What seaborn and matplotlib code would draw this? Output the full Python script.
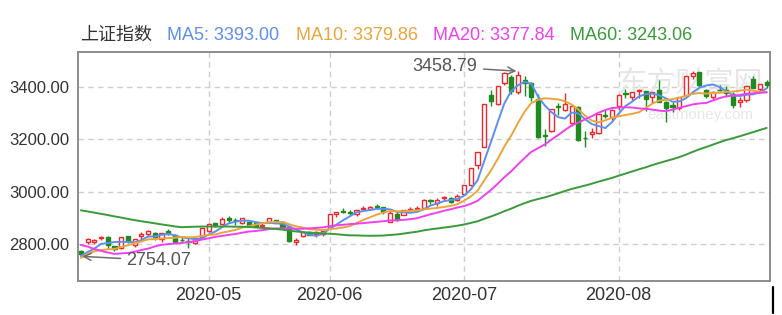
import numpy as np
import pandas as pd
import matplotlib
matplotlib.use('Agg')
import matplotlib.pyplot as plt
import seaborn as sns
from matplotlib.lines import Line2D

# ---------------- data ----------------
dates = (
    ['2020-04-%02d' % d for d in [3, 7, 8, 9, 10, 13, 14, 15, 16, 17, 20, 21, 22, 23, 24, 27, 28, 29, 30]] +
    ['2020-05-%02d' % d for d in [6, 7, 8, 11, 12, 13, 14, 15, 18, 19, 20, 21, 22, 25, 26, 27, 28, 29]] +
    ['2020-06-%02d' % d for d in [1, 2, 3, 4, 5, 8, 9, 10, 11, 12, 15, 16, 17, 18, 19, 22, 23, 24, 29, 30]] +
    ['2020-07-%02d' % d for d in [1, 2, 3, 6, 7, 8, 9, 10, 13, 14, 15, 16, 17, 20, 21, 22, 23, 24, 27, 28, 29, 30, 31]] +
    ['2020-08-%02d' % d for d in [3, 4, 5, 6, 7, 10, 11, 12, 13, 14, 17, 18, 19, 20, 21, 24, 25, 26, 27, 28, 31]] +
    ['2020-09-%02d' % d for d in [1, 2]]
)

open_ = [2773, 2807, 2808, 2823, 2829, 2792, 2785, 2830, 2798, 2831, 2838, 2841, 2821, 2849, 2835, 2818, 2814, 2805, 2826,
         2850, 2879, 2878, 2900, 2894, 2881, 2885, 2882, 2868, 2885, 2891, 2885, 2864, 2808, 2832, 2845, 2840, 2839,
         2861, 2914, 2928, 2924, 2916, 2935, 2936, 2944, 2941, 2885, 2915, 2913, 2931, 2933, 2937, 2967, 2956, 2975, 2976, 2967,
         2991, 3026, 3102, 3172, 3370, 3335, 3414, 3436, 3379, 3427, 3415, 3354, 3217, 3230, 3328, 3312, 3262, 3321, 3206, 3220, 3225, 3293, 3283,
         3325, 3375, 3359, 3385, 3384, 3362, 3388, 3341, 3331, 3317, 3364, 3442, 3454, 3389, 3360, 3388, 3386, 3372, 3341, 3351, 3430,
         3393, 3418]
high = [2778, 2822, 2821, 2832, 2832, 2793, 2828, 2831, 2820, 2847, 2853, 2845, 2844, 2858, 2838, 2828, 2823, 2823, 2861,
        2879, 2880, 2905, 2909, 2899, 2898, 2886, 2883, 2879, 2898, 2893, 2887, 2865, 2822, 2846, 2851, 2849, 2856,
        2917, 2922, 2937, 2929, 2931, 2946, 2944, 2953, 2942, 2927, 2925, 2932, 2942, 2945, 2973, 2974, 2976, 2983, 2980, 2992,
        3027, 3092, 3153, 3335, 3387, 3404, 3456, 3443, 3458.79, 3441, 3418, 3371, 3240, 3315, 3338, 3374, 3329, 3326, 3231, 3243, 3294, 3310, 3314,
        3371, 3392, 3378, 3390, 3384, 3380, 3425, 3345, 3343, 3361, 3440, 3458, 3455, 3391, 3385, 3405, 3401, 3380, 3360, 3404, 3440,
        3411, 3427]
low = [2754.07, 2800, 2801, 2818, 2783, 2773, 2783, 2806, 2791, 2818, 2833, 2817, 2810, 2835, 2808, 2804, 2784, 2799, 2826,
       2848, 2864, 2877, 2882, 2875, 2877, 2866, 2864, 2863, 2880, 2880, 2862, 2807, 2797, 2829, 2834, 2826, 2832,
       2861, 2905, 2919, 2913, 2909, 2930, 2931, 2934, 2916, 2883, 2889, 2912, 2930, 2928, 2934, 2954, 2946, 2968, 2956, 2966,
       2986, 3022, 3087, 3172, 3328, 3330, 3406, 3373, 3373, 3364, 3345, 3203, 3174, 3226, 3293, 3309, 3252, 3195, 3171, 3206, 3219, 3281, 3274,
       3313, 3356, 3349, 3357, 3307, 3339, 3340, 3265, 3305, 3313, 3364, 3431, 3397, 3355, 3353, 3384, 3361, 3320, 3323, 3343, 3394,
       3381, 3395]
close = [2764, 2821, 2815, 2826, 2796, 2783, 2827, 2811, 2819, 2838, 2852, 2827, 2843, 2838, 2808, 2815, 2810, 2822, 2860,
         2878, 2871, 2895, 2894, 2891, 2898, 2870, 2868, 2875, 2898, 2884, 2867, 2814, 2817, 2846, 2837, 2846, 2852,
         2915, 2921, 2923, 2919, 2930, 2937, 2943, 2943, 2921, 2920, 2891, 2931, 2935, 2939, 2967, 2965, 2970, 2979, 2962, 2985,
         3026, 3091, 3153, 3333, 3345, 3403, 3451, 3383, 3443, 3415, 3361, 3210, 3214, 3314, 3321, 3333, 3325, 3197, 3205, 3228, 3295, 3287, 3310,
         3368, 3372, 3378, 3386, 3354, 3379, 3340, 3319, 3321, 3360, 3439, 3451, 3408, 3364, 3381, 3386, 3374, 3330, 3351, 3404, 3396,
         3411, 3405]

# closes before the visible window (Jan 2 - Apr 2, 2020), only used for the moving averages
hist_close = [3085, 3084, 3083, 3105, 3067, 3095, 3092, 3116, 3107, 3090, 3074, 3076, 3096, 3052, 3061, 2977,
              2747, 2783, 2818, 2867, 2876, 2890, 2902, 2927, 2906, 2917, 2984, 2985, 2975, 3030, 3040, 3031, 3013, 2988, 2991, 2880,
              2971, 2993, 3012, 3072, 3035, 2943, 2997, 2969, 2923, 2887, 2789, 2780, 2729, 2702, 2746, 2660, 2722, 2782, 2765, 2772, 2747, 2750,
              2735, 2781]

ma_windows = [5, 10, 20, 60]
ma_names = ['MA5', 'MA10', 'MA20', 'MA60']
ma_last = ['3393.00', '3379.86', '3377.84', '3243.06']
ma_colors = ['#5d8ff0', '#eaa53c', '#f23ff2', '#3a9a3a']
title_text = '上证指数'
month_labels = ['2020-05', '2020-06', '2020-07', '2020-08']
y_ticks = [2800, 3000, 3200, 3400]
high_value = 3458.79
low_value = 2754.07

UP = '#f0282a'
DOWN = '#1f8a1f'

# ---------------- figure ----------------
sns.set_style('white')
plt.rcParams['font.family'] = ['Liberation Sans', 'Noto Sans CJK SC', 'DejaVu Sans']

fig = plt.figure(figsize=(7.82, 3.15), dpi=100)
ax = fig.add_axes([77.5 / 782, 1 - 281 / 315, (770 - 77.5) / 782, (281 - 52) / 315])

n = len(dates)
x = np.arange(n)
o = np.array(open_, float)
h = np.array(high, float)
l = np.array(low, float)
c = np.array(close, float)
up = c >= o

# wicks
ax.vlines(x[up], l[up], h[up], color=UP, linewidth=1, zorder=3)
ax.vlines(x[~up], l[~up], h[~up], color=DOWN, linewidth=1, zorder=3)
# bodies
body_b = np.minimum(o, c)
body_h = np.maximum(np.abs(c - o), 0.6)
ax.bar(x[up], body_h[up], bottom=body_b[up], width=0.62, facecolor='white', edgecolor=UP, linewidth=1, zorder=4)
ax.bar(x[~up], body_h[~up], bottom=body_b[~up], width=0.62, facecolor=DOWN, edgecolor=DOWN, linewidth=1, zorder=4)

# moving averages
full = pd.Series(hist_close + close, dtype=float)
k = len(hist_close)
rows = []
for name, w in zip(ma_names, ma_windows):
    ma = full.rolling(w).mean().iloc[k:].to_numpy()
    rows.append(pd.DataFrame({'idx': x, 'value': ma, 'ma': name}))
df = pd.concat(rows, ignore_index=True)
sns.lineplot(data=df, x='idx', y='value', hue='ma', hue_order=ma_names,
             palette=dict(zip(ma_names, ma_colors)), linewidth=1.4, legend=False, ax=ax, zorder=5)

# axes
ax.set_xlim(-0.5, n - 0.5)
ax.set_ylim(2660, 3532)
month_pos = [next(i for i, d in enumerate(dates) if d.startswith(m)) for m in month_labels]
ax.set_xticks(month_pos)
ax.set_xticklabels(month_labels)
ax.set_yticks(y_ticks)
ax.set_yticklabels(['%.2f' % v for v in y_ticks])
ax.set_xlabel('')
ax.set_ylabel('')
ax.grid(True, linestyle=(0, (4, 3)), color='#cfcfcf', linewidth=1)
ax.set_axisbelow(True)
ax.tick_params(axis='both', length=0, colors='#333333')
ax.tick_params(axis='y', labelsize=12, pad=6)
ax.tick_params(axis='x', labelsize=13, pad=4)
for s in ax.spines.values():
    s.set_color('#8c8c8c')
    s.set_linewidth(1.4)

# watermark
ax.text(0.885, 0.86, '东方财富网', transform=ax.transAxes, fontsize=21, color='#e6e6e6',
        ha='center', va='center', family=['Noto Sans CJK SC'], zorder=1)
ax.text(0.9, 0.725, 'eastmoney.com', transform=ax.transAxes, fontsize=11, color='#e8e8e8',
        ha='center', va='center', zorder=1)

# annotations of extremes
hi_i = int(np.argmax(h))
lo_i = int(np.argmin(l))
ax.annotate('%.2f' % high_value, xy=(hi_i, high_value), xytext=(hi_i - 6.0, 3476),
            ha='right', va='center', fontsize=13, color='#555555',
            arrowprops=dict(arrowstyle='->', color='#707070', lw=1.1, shrinkA=2, shrinkB=1), zorder=6)
ax.annotate('%.2f' % low_value, xy=(lo_i, low_value), xytext=(lo_i + 6.8, 2738),
            ha='left', va='center', fontsize=13, color='#555555',
            arrowprops=dict(arrowstyle='->', color='#707070', lw=1.1, shrinkA=2, shrinkB=1), zorder=6)

# header legend
fy = 1 - 35 / 315
fig.text(80 / 782, fy, title_text, fontsize=13, color='#333333', va='center', ha='left',
         family=['Noto Sans CJK SC', 'DejaVu Sans'])
xs = [167, 296, 433, 570]
for px, name, val, col in zip(xs, ma_names, ma_last, ma_colors):
    fig.text(px / 782, fy, '%s: %s' % (name, val), fontsize=13, color=col, va='center', ha='left')

# small cursor mark at the bottom right
fig.add_artist(Line2D([773 / 782, 773 / 782], [1 - 313 / 315, 1 - 287 / 315], color='black', linewidth=1.6))

fig.savefig('out.png', dpi=100)
